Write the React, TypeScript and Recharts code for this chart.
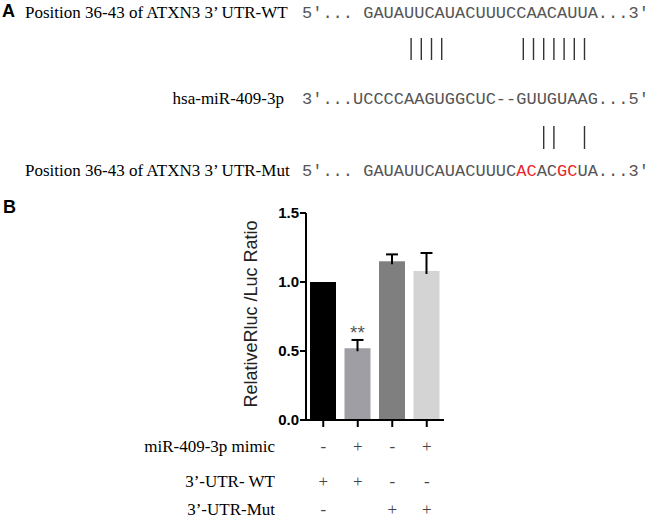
import React from "react";
import { BarChart, Bar, XAxis, YAxis, Cell } from "recharts";

// ---- Panel A data ----
const wtLabel = "Position 36-43 of ATXN3 3’ UTR-WT";
const mirLabel = "hsa-miR-409-3p";
const mutLabel = "Position 36-43 of ATXN3 3’ UTR-Mut";
const wtSeq = "5′... GAUAUUCAUACUUUCCAACAUUA...3′";
const mirSeq = "3′...UCCCCAAGUGGCUC--GUUGUAAG...5′";
const mutSeqParts = [
  { t: "5′... GAUAUUCAUACUUUC", red: false },
  { t: "AC", red: true },
  { t: "AC", red: false },
  { t: "GC", red: true },
  { t: "UA...3′", red: false },
];
const wtPairs = [10, 11, 12, 13, 21, 22, 23, 24, 25, 26, 27];
const mutPairs = [23, 24, 27];

// ---- Panel B data ----
const categories = ["WT + NC", "WT + mimic", "Mut + NC", "Mut + mimic"];
const ratioValues = [1.0, 0.52, 1.15, 1.08];
const errValues = [0, 0.06, 0.05, 0.13];
const sigLabels = ["", "**", "", ""];
const yTicks = [0, 0.5, 1.0, 1.5];
const rowLabels = ["miR-409-3p mimic", "3’-UTR- WT", "3’-UTR-Mut"];
const mimicRow = ["-", "+", "-", "+"];
const wtRow = ["+", "+", "-", "-"];
const mutRow = ["-", "", "+", "+"];
const tableRows = [mimicRow, wtRow, mutRow];

const barColors = ["#000000", "#9e9ea4", "#7f7f7f", "#d4d4d4"];

const data = categories.map((c, i) => ({
  cat: c,
  ratio: ratioValues[i],
  err: errValues[i],
  sig: sigLabels[i],
}));

const MONO = "'Liberation Mono', 'DejaVu Sans Mono', monospace";
const SERIF = "'Liberation Serif', 'Times New Roman', serif";
const SANS = "'Liberation Sans', Arial, sans-serif";
const FS_MONO = 17;
const CW = FS_MONO * 0.6;
const SEQ_X = 302;

// row baselines relative to the x-axis tick origin
const rowOffsets = [25, 60, 88];

const BarShape = (props: any) => {
  const { x, y, width, height, fill, payload } = props;
  const v = payload.ratio;
  const pxPerUnit = v > 0 ? height / v : 0;
  const errPx = payload.err * pxPerUnit;
  const cx = x + width / 2;
  return (
    <g>
      <rect x={x} y={y} width={width} height={height} fill={fill} />
      {payload.err > 0 && (
        <g stroke="#000" strokeWidth={2}>
          <line x1={cx} y1={y + 3} x2={cx} y2={y - errPx} />
          <line x1={cx - 6} y1={y - errPx} x2={cx + 6} y2={y - errPx} />
        </g>
      )}
      {payload.sig && (
        <text
          x={cx}
          y={y - errPx - 1}
          textAnchor="middle"
          fontFamily={SANS}
          fontSize={19}
          fill="#555"
        >
          {payload.sig}
        </text>
      )}
    </g>
  );
};

const YTick = (props: any) => {
  const { x, y, payload } = props;
  return (
    <text
      x={x}
      y={y}
      dy={5}
      textAnchor="end"
      fontFamily={SANS}
      fontSize={15}
      fontWeight="bold"
      fill="#000"
    >
      {Number(payload.value).toFixed(1)}
    </text>
  );
};

const TableTick = (props: any) => {
  const { x, y, payload } = props;
  const i = payload.index;
  return (
    <g>
      {tableRows.map((row, r) => (
        <text
          key={r}
          x={x}
          y={y + rowOffsets[r]}
          textAnchor="middle"
          fontFamily={SERIF}
          fontSize={17}
          fill="#444"
        >
          {row[i]}
        </text>
      ))}
    </g>
  );
};

export default function App() {
  return (
    <div
      style={{
        position: "absolute",
        left: 0,
        top: 0,
        width: 648,
        height: 519,
        background: "#fff",
        overflow: "hidden",
      }}
    >
      <div style={{ position: "absolute", left: 0, top: 0 }}>
        <BarChart
          width={648}
          height={519}
          data={data}
          margin={{ top: 213, right: 204, left: 246, bottom: 0 }}
          barSize={26}
        >
          <YAxis
            type="number"
            domain={[0, 1.5]}
            ticks={yTicks}
            width={60}
            axisLine={{ stroke: "#000", strokeWidth: 2 }}
            tickLine={{ stroke: "#000", strokeWidth: 2 }}
            tickSize={6}
            tickMargin={1}
            tick={<YTick />}
            interval={0}
          />
          <XAxis
            dataKey="cat"
            height={99}
            axisLine={{ stroke: "#000", strokeWidth: 2 }}
            tickLine={{ stroke: "#000", strokeWidth: 2 }}
            tickSize={7}
            tickMargin={0}
            tick={<TableTick />}
            interval={0}
          />
          <Bar dataKey="ratio" isAnimationActive={false} shape={<BarShape />}>
            {data.map((d, i) => (
              <Cell key={i} fill={barColors[i]} />
            ))}
          </Bar>
        </BarChart>
      </div>
      <svg
        width={648}
        height={519}
        style={{ position: "absolute", left: 0, top: 0, pointerEvents: "none" }}
      >
        {/* Panel A */}
        <text x={2} y={17} fontFamily={SANS} fontWeight="bold" fontSize={18} fill="#000">
          A
        </text>
        <text x={25} y={18} fontFamily={SERIF} fontSize={17} fill="#000">
          {wtLabel}
        </text>
        <text x={SEQ_X} y={18} fontFamily={MONO} fontSize={FS_MONO} fill="#555">
          {wtSeq}
        </text>
        {wtPairs.map((i) => (
          <line
            key={"w" + i}
            x1={SEQ_X + (i + 0.5) * CW + 2}
            x2={SEQ_X + (i + 0.5) * CW + 2}
            y1={38}
            y2={60}
            stroke="#333"
            strokeWidth={1.4}
          />
        ))}
        <text x={284} y={104} textAnchor="end" fontFamily={SERIF} fontSize={17} fill="#000">
          {mirLabel}
        </text>
        <text x={SEQ_X} y={104} fontFamily={MONO} fontSize={FS_MONO} fill="#555">
          {mirSeq}
        </text>
        {mutPairs.map((i) => (
          <line
            key={"m" + i}
            x1={SEQ_X + (i + 0.5) * CW + 2}
            x2={SEQ_X + (i + 0.5) * CW + 2}
            y1={126}
            y2={149}
            stroke="#333"
            strokeWidth={1.4}
          />
        ))}
        <text x={25} y={176} fontFamily={SERIF} fontSize={17} fill="#000">
          {mutLabel}
        </text>
        <text x={SEQ_X} y={176} fontFamily={MONO} fontSize={FS_MONO} fill="#555">
          {mutSeqParts.map((p, k) => (
            <tspan key={k} fill={p.red ? "#e8262a" : "#555"}>
              {p.t}
            </tspan>
          ))}
        </text>

        {/* Panel B */}
        <text x={3} y={213} fontFamily={SANS} fontWeight="bold" fontSize={18} fill="#000">
          B
        </text>
        <text
          x={257}
          y={314}
          transform="rotate(-90 257 314)"
          textAnchor="middle"
          fontFamily={SANS}
          fontSize={18}
          fill="#222"
        >
          RelativeRluc /Luc Ratio
        </text>
        {rowLabels.map((l, r) => (
          <text
            key={r}
            x={275}
            y={427 + rowOffsets[r]}
            textAnchor="end"
            fontFamily={SERIF}
            fontSize={17}
            fill="#000"
          >
            {l}
          </text>
        ))}
      </svg>
    </div>
  );
}
